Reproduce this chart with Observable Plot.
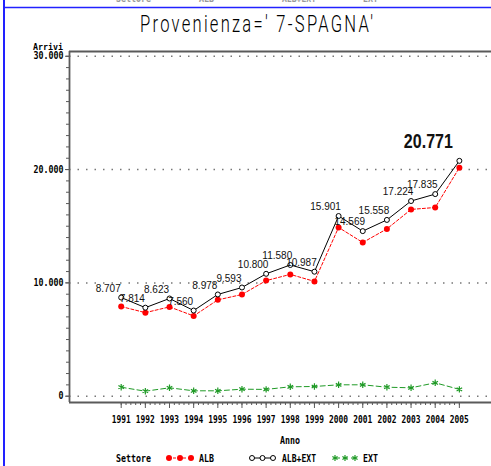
<!DOCTYPE html>
<html>
<head>
<meta charset="utf-8">
<script src="https://cdn.jsdelivr.net/npm/d3@7"></script>
<script src="https://cdn.jsdelivr.net/npm/@observablehq/plot@0.6"></script>
<style>
  html, body { margin: 0; padding: 0; background: #fff; }
  #wrap { position: relative; width: 491px; height: 466px; overflow: hidden; }
  #wrap > svg { position: absolute; left: 0; top: 0; }
</style>
</head>
<body>
<div id="wrap"></div>
<script>
// ---- data ----
const years = [1991, 1992, 1993, 1994, 1995, 1996, 1997, 1998, 1999, 2000, 2001, 2002, 2003, 2004, 2005];
const albExt = [8707, 7814, 8623, 7560, 8978, 9593, 10800, 11580, 10987, 15901, 14569, 15558, 17224, 17835, 20771];
const alb    = [7913, 7373, 7882, 7084, 8502, 8975, 10200, 10750, 10131, 14895, 13563, 14764, 16483, 16653, 20171];
const ext    = [794, 441, 741, 476, 476, 618, 600, 830, 856, 1006, 1006, 794, 741, 1182, 600];
const yTicks = [0, 10000, 20000, 30000];
const titleText = "Provenienza=' 7-SPAGNA'";
const legendLabels = ["ALB", "ALB+EXT", "EXT"];

const data = years.map((y, i) => ({year: y, alb: alb[i], tot: albExt[i], ext: ext[i]}));
const fmt = d => d3.format(",")(d).replace(/,/g, ".");

const RED = "#ff0000", BLACK = "#000000", GREEN = "#1f9a26", AX = "#5a5a5a";
const xMin = 1988.86, xMax = 2006.33, yMin = -556, yMax = 30420;
const minorX = d3.range(0, 71).map(i => 1991 + i * 0.2);
const minorY = d3.range(0, 30001, 1000);
const mono = "'DejaVu Sans Mono', 'Liberation Mono', monospace";
const sans = "'Liberation Sans', Arial, sans-serif";

const chart = Plot.plot({
  width: 491, height: 466,
  marginTop: 51, marginBottom: 64, marginLeft: 69, marginRight: 0,
  style: {fontFamily: mono, fontSize: "10px", background: "transparent", overflow: "visible"},
  x: {type: "linear", domain: [xMin, xMax], label: null},
  y: {domain: [yMin, yMax], label: null},
  marks: [
    Plot.ruleY(yTicks, {stroke: "#777", strokeWidth: 1.5, strokeDasharray: "1.5,7"}),
    Plot.axisY(minorY, {tickSize: 3, tickFormat: () => "", stroke: AX, label: null}),
    Plot.axisY(yTicks, {tickSize: 4, tickPadding: 2, tickFormat: fmt, stroke: AX, fill: "#000",
      fontWeight: "bold", fontSize: 10, label: null}),
    Plot.axisX(minorX, {tickSize: 3, tickFormat: () => "", stroke: AX, label: null}),
    Plot.axisX(years, {tickSize: 6, tickPadding: 7, tickFormat: d => String(d), stroke: AX, fill: "#000",
      fontWeight: "bold", fontSize: 10, label: null}),
    Plot.ruleX([xMin], {stroke: AX, strokeWidth: 1.8}),
    Plot.ruleY([yMin, yMax], {stroke: AX, strokeWidth: 1.8}),
    // ALB
    Plot.line(data, {x: "year", y: "alb", stroke: RED, strokeWidth: 1, strokeDasharray: "3,2"}),
    Plot.dot(data, {x: "year", y: "alb", fill: RED, r: 3}),
    // ALB+EXT
    Plot.line(data, {x: "year", y: "tot", stroke: BLACK, strokeWidth: 1}),
    Plot.dot(data, {x: "year", y: "tot", fill: "white", stroke: BLACK, strokeWidth: 1, r: 2.5}),
    // EXT
    Plot.line(data, {x: "year", y: "ext", stroke: GREEN, strokeWidth: 1, strokeDasharray: "5,3"}),
    Plot.dot(data, {x: "year", y: "ext", symbol: "asterisk", stroke: GREEN, strokeWidth: 1.2, r: 3}),
    // value labels
    Plot.text(data.filter(d => d.year < 2005), {x: "year", y: "tot", text: d => fmt(d.tot),
      dx: -13, dy: -9, fontFamily: sans, fontSize: 10, fill: "#111"}),
    Plot.text(data.filter(d => d.year === 2005), {x: "year", y: "tot", text: d => fmt(d.tot),
      dx: -31, dy: -19, fontFamily: sans, fontSize: 20, fontWeight: "bold", fill: "#111"})
  ]
});

const wrap = document.getElementById("wrap");
wrap.appendChild(chart);

// condense tick labels like the SAS font
const sel = d3.select(chart);
sel.selectAll('g[aria-label="y-axis tick label"] text').each(function() {
  const t = this.textContent;
  if (t) d3.select(this).attr("textLength", 5 * t.length).attr("lengthAdjust", "spacingAndGlyphs");
});
sel.selectAll('g[aria-label="x-axis tick label"] text').each(function() {
  const t = this.textContent;
  if (t) d3.select(this).attr("textLength", 19).attr("lengthAdjust", "spacingAndGlyphs");
});
sel.selectAll('g[aria-label="text"] text').each(function() {
  const t = this.textContent;
  if (t === fmt(20771)) d3.select(this).attr("textLength", 49).attr("lengthAdjust", "spacingAndGlyphs");
});

// ---- overlay: page frame, title, axis titles, legend ----
const ov = d3.select(wrap).append("svg")
  .attr("width", 491).attr("height", 466)
  .style("pointer-events", "none");

ov.append("line").attr("x1", 4).attr("x2", 4).attr("y1", 0).attr("y2", 466)
  .attr("stroke", "#2222ff").attr("stroke-width", 2);
ov.append("line").attr("x1", 4).attr("x2", 491).attr("y1", 7.5).attr("y2", 7.5)
  .attr("stroke", "#2222ff").attr("stroke-width", 1.5);

function txt(s, x, y, len, opts = {}, parent = ov) {
  const t = parent.append("text").attr("x", x).attr("y", y).text(s)
    .attr("font-family", opts.family || mono)
    .attr("font-size", opts.size || 10)
    .attr("font-weight", opts.weight || "bold")
    .attr("fill", opts.fill || "#000")
    .attr("text-anchor", opts.anchor || "start");
  if (len) t.attr("textLength", len).attr("lengthAdjust", opts.adjust || "spacingAndGlyphs");
  return t;
}

// cut-off legend from the previous page (only its lower edge shows)
const topFrag = [["Settore", 116, 35], [legendLabels[0], 199, 15], [legendLabels[1], 282, 34], [legendLabels[2], 363, 15]];
topFrag.forEach(([s, x, w]) => txt(s, x, 2, w, {fill: "#999"}));

// title (thin, tall, narrow glyphs, evenly spaced)
const tg = ov.append("g").attr("transform", "translate(140,32) scale(0.72,1)");
txt(titleText, 0, 0, 233 / 0.72, {size: 23, weight: 300, adjust: "spacing",
  family: "Roboto, 'Open Sans', 'DejaVu Sans', sans-serif"}, tg);
// axis titles
txt("Arrivi", 33, 50, 30, {size: 9});
txt("Anno", 280, 444, 20, {size: 10});

// legend
const ly = 462, lc = 458;
txt("Settore", 116, ly, 35);
// ALB
ov.append("line").attr("x1", 168).attr("x2", 192).attr("y1", lc).attr("y2", lc)
  .attr("stroke", RED).attr("stroke-dasharray", "3,2");
[169, 180, 191].forEach(x => ov.append("circle").attr("cx", x).attr("cy", lc).attr("r", 3).attr("fill", RED));
txt(legendLabels[0], 199, ly, 15);
// ALB+EXT
ov.append("line").attr("x1", 251).attr("x2", 273).attr("y1", lc).attr("y2", lc).attr("stroke", BLACK);
[252, 262.5, 273].forEach(x => ov.append("circle").attr("cx", x).attr("cy", lc).attr("r", 2.5)
  .attr("fill", "white").attr("stroke", BLACK));
txt(legendLabels[1], 282, ly, 34);
// EXT
ov.append("line").attr("x1", 335).attr("x2", 355).attr("y1", lc).attr("y2", lc)
  .attr("stroke", GREEN).attr("stroke-dasharray", "5,3");
[335, 345, 355].forEach(x => {
  const g = ov.append("g").attr("transform", `translate(${x},${lc})`).attr("stroke", GREEN).attr("stroke-width", 1.2);
  [0, 60, 120].forEach(a => g.append("line").attr("x1", 0).attr("y1", -3).attr("x2", 0).attr("y2", 3)
    .attr("transform", `rotate(${a})`));
});
txt(legendLabels[2], 363, ly, 15);
</script>
</body>
</html>
